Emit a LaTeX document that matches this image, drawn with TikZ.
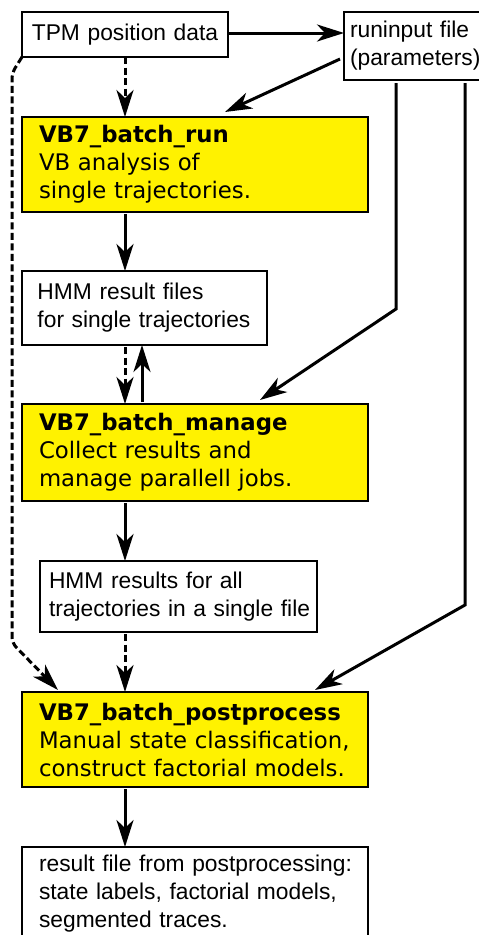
\documentclass[tikz,border=0pt]{standalone}
\usepackage{fontspec}
\setmainfont{Liberation Sans}
\newfontfamily\dvs{DejaVu Sans}
\usetikzlibrary{arrows.meta,calc}
\tikzset{
  box/.style={draw, line width=2pt, outer sep=0pt, anchor=north west, inner ysep=0pt,
    font=\fontsize{22.8}{28}\selectfont},
  yel/.style={box, fill=yellow, align=left, text width=312, inner xsep=17,
    font=\dvs\fontsize{22.8}{28}\selectfont},
  arr/.style={line width=3pt, -{Stealth[length=27pt,width=17pt,inset=8pt]}},
  dsh/.style={arr, dash pattern=on 7pt off 3.5pt},
}
\begin{document}
\begin{tikzpicture}[x=1pt,y=-1pt]
\clip (0,0) rectangle (479,935);
\fill[white] (0,0) rectangle (479,935);
\node[box, align=center, text width=190, inner xsep=8, minimum height=45] (tpm) at (22,12) {\mbox{TPM position data}};
\node[box, align=left, text width=132, inner xsep=6, minimum height=68] (rin) at (344,12) {\mbox{runinput file}\\\mbox{(parameters)}};
\node[yel, minimum height=95] (run) at (22,117) {\mbox{\textbf{VB7\_batch\_run}}\\\mbox{VB analysis of}\\\mbox{single trajectories.}};
\node[box, align=left, text width=214, inner xsep=15.5, minimum height=74] (hmm1) at (22,271) {\mbox{HMM result files}\\\mbox{for single trajectories}};
\node[yel, minimum height=97] (man) at (22,404) {\mbox{\textbf{VB7\_batch\_manage}}\\\mbox{Collect results and}\\\mbox{manage parallell jobs.}};
\node[box, align=left, text width=259, inner xsep=9, minimum height=71] (hmm2) at (40,561) {\mbox{HMM results for all}\\\mbox{trajectories in a single file}};
\node[yel, minimum height=95] (post) at (22,692) {\mbox{\textbf{VB7\_batch\_postprocess}}\\\mbox{Manual state classification,}\\\mbox{construct factorial models.}};
\node[box, align=left, text width=312, inner xsep=17, minimum height=94] (res) at (22,847) {\mbox{result file from postprocessing:}\\\mbox{state labels, factorial models,}\\\mbox{segmented traces.}};

\draw[arr] ($(tpm.north east)+(0,21)$) -- ($(rin.north west)+(0,21)$);
\draw[dsh] ($(tpm.south west)+(103,0)$) -- ($(run.north west)+(103,0)$);
\draw[arr] ($(rin.south west)+(-4,-21)$) -- ($(run.north west)+(203,-5)$);
\draw[arr] ($(rin.south west)+(52,3)$) -- ++(0,226) -- ($(man.north west)+(238,-4)$);
\draw[arr] ($(rin.south west)+(121,3)$) -- ++(0,522) -- ($(post.north west)+(293,-2)$);
\draw[arr] ($(run.south west)+(103,2)$) -- ($(hmm1.north west)+(103,0)$);
\draw[dsh] ($(hmm1.south west)+(103,2)$) -- ($(man.north west)+(103,0)$);
\draw[arr] ($(man.north west)+(120,-2)$) -- ($(hmm1.south west)+(120,0)$);
\draw[arr] ($(man.south west)+(103,2)$) -- ($(hmm2.north west)+(85,0)$);
\draw[dsh] ($(hmm2.south west)+(85,2)$) -- ($(post.north west)+(103,0)$);
\draw[arr] ($(post.south west)+(103,2)$) -- ($(res.north west)+(103,0)$);
\draw[dsh, rounded corners=6pt] (tpm.south west) -- ($(tpm.south west)+(-10,16)$) -- ++(0,570) -- ($(post.north west)+(36,-2)$);
\end{tikzpicture}
\end{document}
